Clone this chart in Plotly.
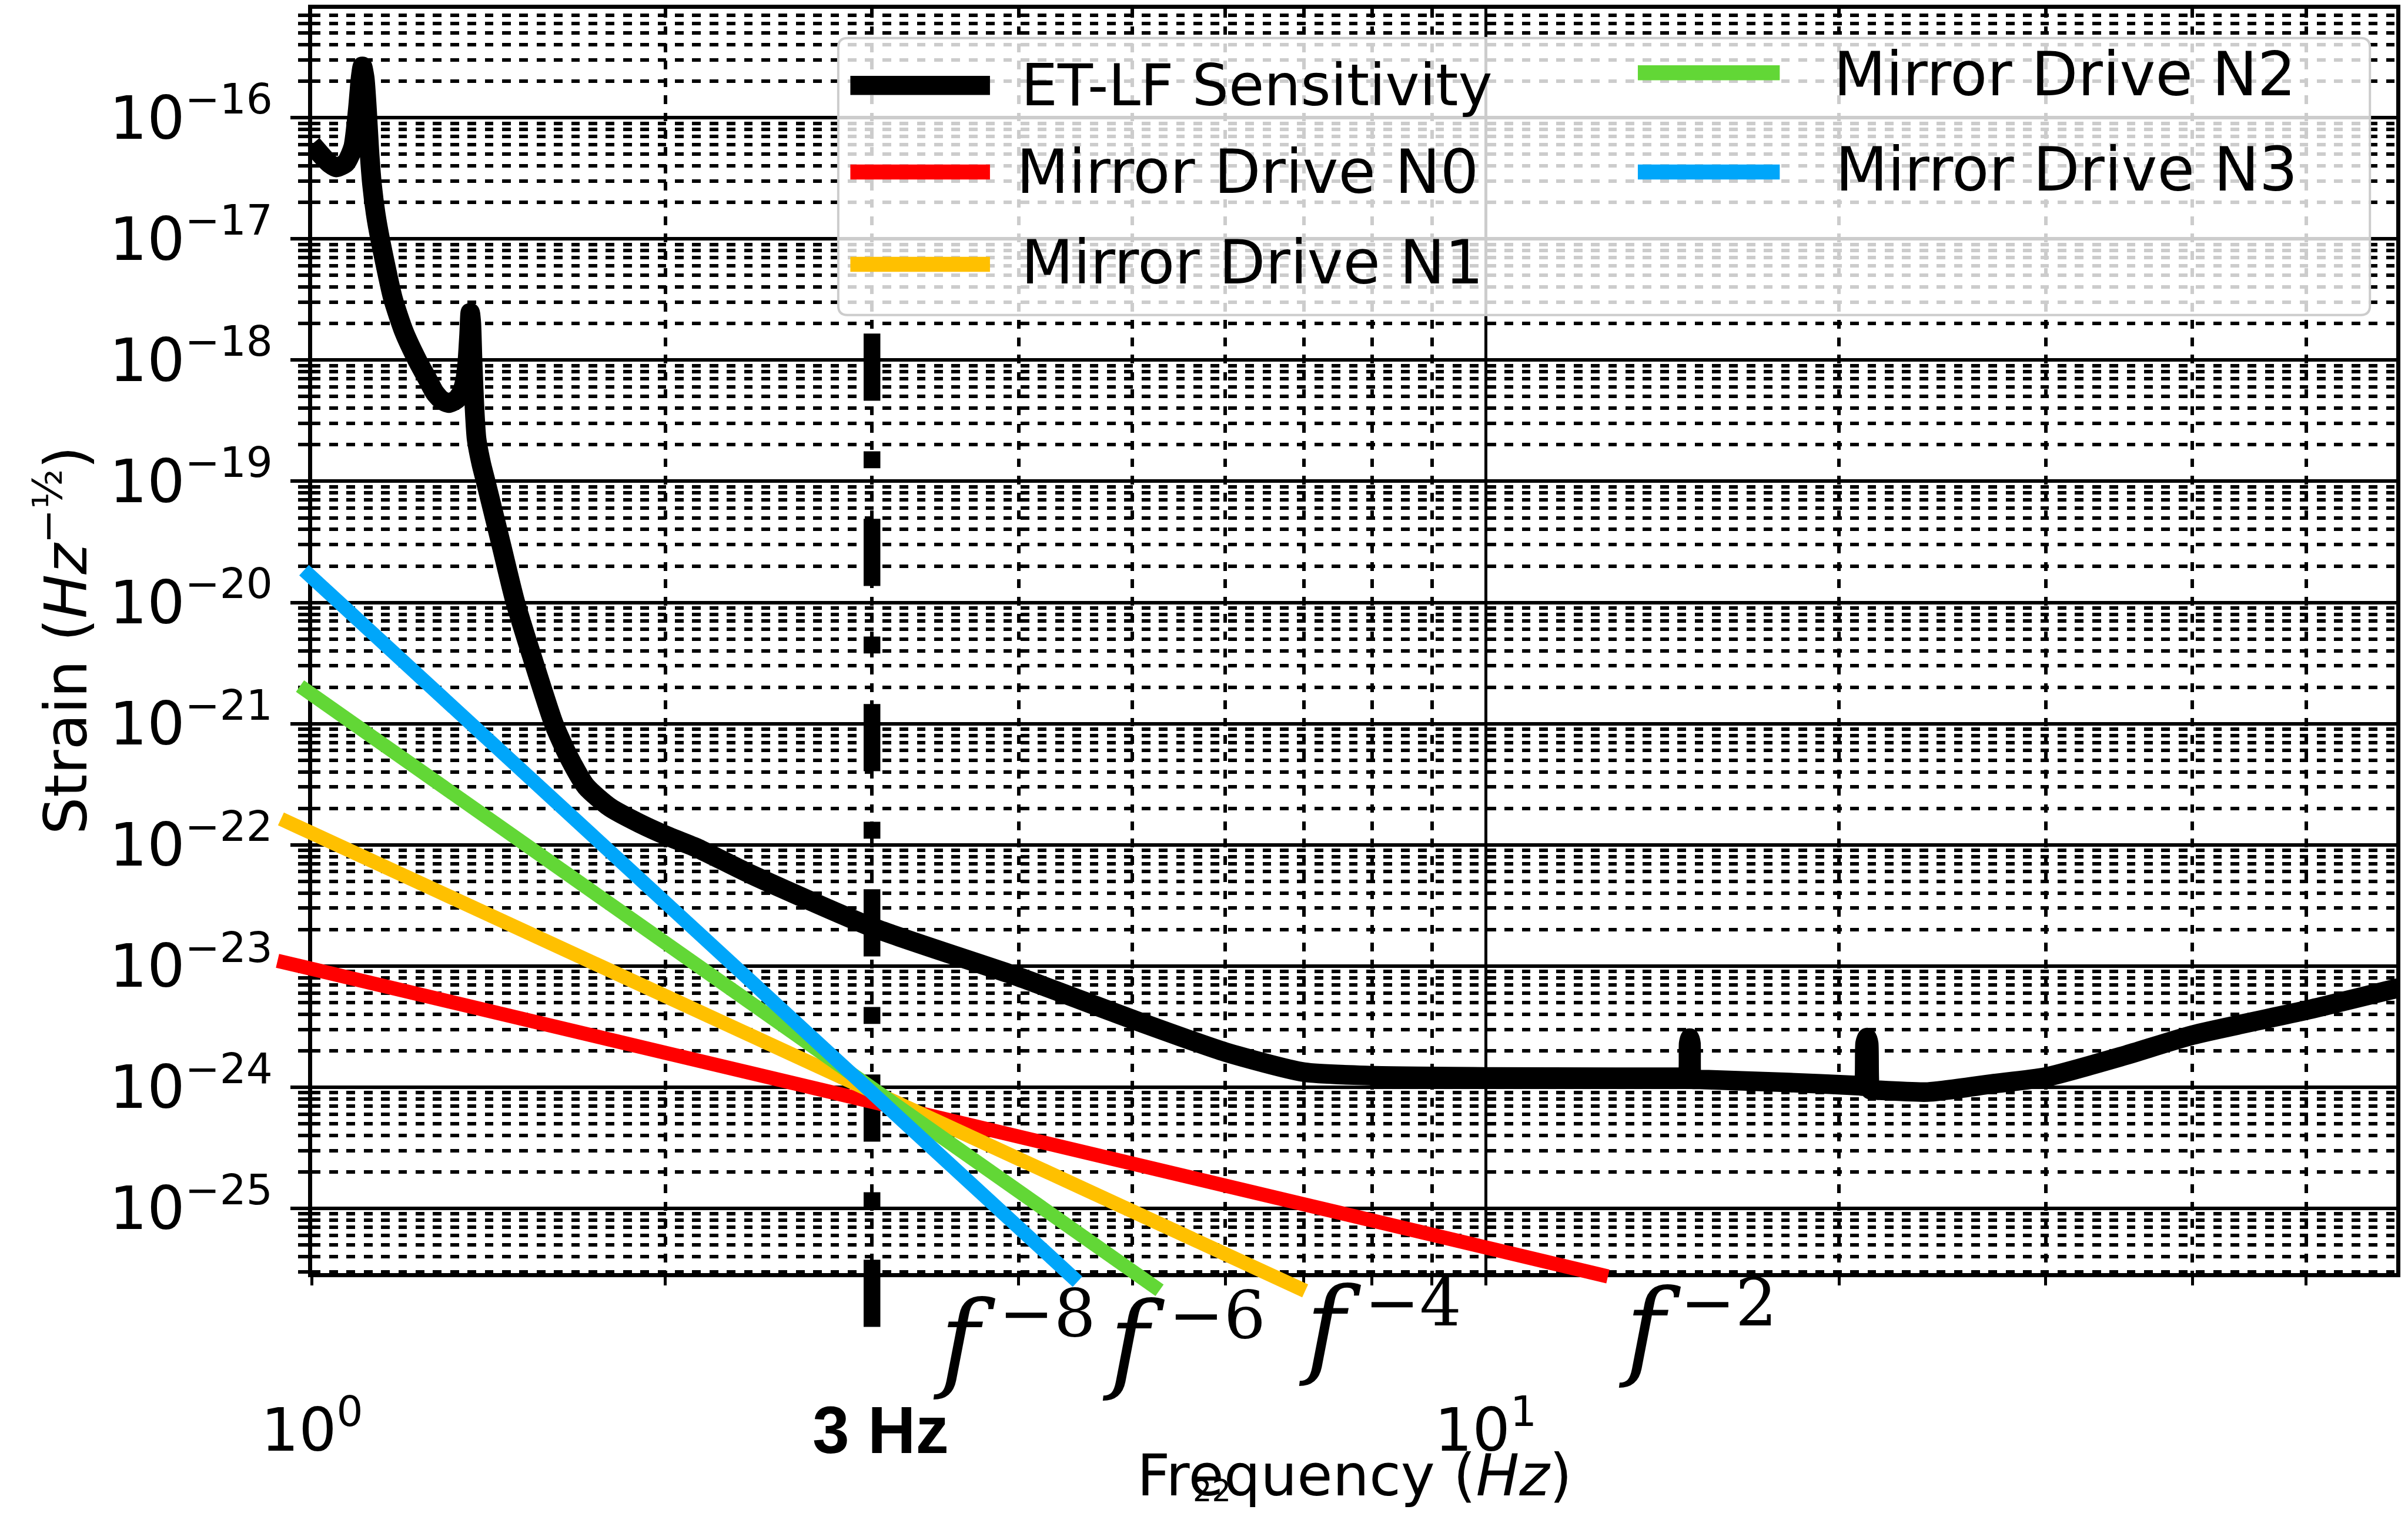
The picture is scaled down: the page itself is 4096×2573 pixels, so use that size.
import plotly.graph_objects as go

# ---------------- data ----------------
et_lf_freq = [1.000, 1.022, 1.036, 1.049, 1.069, 1.084, 1.094, 1.100, 1.104, 1.109, 1.114, 1.119, 1.125, 1.133, 1.143,
              1.172, 1.198, 1.230, 1.253, 1.272, 1.289, 1.308, 1.328, 1.341, 1.350, 1.356, 1.361, 1.364, 1.367, 1.370,
              1.375, 1.381, 1.394, 1.406, 1.448, 1.490, 1.546, 1.607, 1.655, 1.712, 1.794, 1.900, 2.013, 2.133, 2.362,
              3.0, 4.0, 5.0, 6.0, 7.0, 8.0, 10.0, 12.9, 14.75, 14.857, 14.891, 14.925, 14.959, 14.993, 15.10, 18.0,
              20.80, 20.98, 21.05, 21.13, 21.20, 21.27, 21.40, 21.6, 23.8, 27.0, 30.0, 35.0, 40.0, 50.0, 60.0]
et_lf_strain = [6.04e-17, 4.74e-17, 4.16e-17, 3.89e-17, 4.25e-17, 5.71e-17, 1.17e-16, 2.13e-16, 2.65e-16, 2.13e-16,
                1.17e-16, 5.41e-17, 2.81e-17, 1.62e-17, 1.0e-17,
                3.24e-18, 1.71e-18, 9.89e-19, 7.11e-19, 5.41e-19, 4.69e-19, 4.42e-19, 4.74e-19, 5.41e-19, 6.74e-19,
                9.36e-19, 1.62e-18, 2.45e-18, 2.02e-18, 1.05e-18,
                4.35e-19, 2.25e-19, 1.39e-19, 1.0e-19, 3.13e-20, 1.01e-20, 3.16e-21, 1.0e-21, 5.30e-22, 3.03e-22,
                2.04e-22, 1.51e-22, 1.17e-22, 9.33e-23, 5.75e-23,
                2.09e-23, 8.13e-24, 3.63e-24, 1.95e-24, 1.33e-24, 1.245e-24, 1.216e-24, 1.208e-24, 1.208e-24, 1.208e-24,
                2.29e-24, 2.54e-24, 2.29e-24, 1.167e-24, 1.162e-24, 1.096e-24,
                1.03e-24, 1.023e-24, 2.29e-24, 2.57e-24, 2.29e-24, 9.55e-25, 9.50e-25, 9.44e-25, 9.12e-25, 1.064e-24,
                1.211e-24, 1.82e-24, 2.69e-24, 4.31e-24, 6.61e-24]

n0_freq = [0.9346, 12.71]
n0_strain = [1.104e-23, 2.742e-26]
n1_freq = [0.9409, 7.018]
n1_strain = [1.637e-22, 2.084e-26]
n2_freq = [0.9768, 5.274]
n2_strain = [2.042e-21, 2.109e-26]
n3_freq = [0.9845, 4.490]
n3_strain = [1.849e-20, 2.483e-26]

cut_freq = [3.0, 3.0]
cut_strain = [1.656e-18, 9.57e-27]

x_tick_vals = [1, 10]
x_tick_text = ["10<sup>0</sup>", "10<sup>1</sup>"]
x_minor_vals = [2, 3, 4, 5, 6, 7, 8, 9, 20, 30, 40, 50]
y_tick_exp = [-25, -24, -23, -22, -21, -20, -19, -18, -17, -16]
y_tick_text = ["10<sup>\u221225</sup>", "10<sup>\u221224</sup>", "10<sup>\u221223</sup>", "10<sup>\u221222</sup>",
               "10<sup>\u221221</sup>", "10<sup>\u221220</sup>", "10<sup>\u221219</sup>", "10<sup>\u221218</sup>",
               "10<sup>\u221217</sup>", "10<sup>\u221216</sup>"]
y_minor_mant = [2, 3, 4, 5, 6, 7, 8, 9]
y_minor_exp = list(range(-26, -15))

legend_names = ["ET-LF Sensitivity", "Mirror Drive N0", "Mirror Drive N1", "Mirror Drive N2", "Mirror Drive N3"]
slope_labels = ["\u22128", "\u22126", "\u22124", "\u22122"]

# ---------------- geometry helpers (reference px -> output) ----------------
W, H = 4096, 2573
RW, RH = 4174.0, 2622.0
S = W / RW


def px(v):
    return v * S


def xp(x):
    return x / RW


def yp(y):
    return 1 - y / RH


L, R, T, B = 540.8, 4154.0, 15.5, 2206.0
x_range = [0.0, 1.776]
y_range = [-25.533, -15.102]
dec_x = (R - L) / (x_range[1] - x_range[0])
dec_y = (B - T) / (y_range[1] - y_range[0])
L2, B2 = 420.0, 2345.0
x2_range = [x_range[0] - (L - L2) / dec_x, x_range[1]]
y2_range = [y_range[0] - (B2 - B) / dec_y, y_range[1]]

BLACK = "#000000"
C_N0, C_N1, C_N2, C_N3 = "#FF0000", "#FFC000", "#62D736", "#00A6FA"

fig = go.Figure()

fig.add_trace(go.Scatter(x=et_lf_freq, y=et_lf_strain, mode="lines", name=legend_names[0],
                         line=dict(color=BLACK, width=px(34), shape="spline", smoothing=0.6),
                         xaxis="x", yaxis="y", showlegend=False))
fig.add_trace(go.Scatter(x=cut_freq, y=cut_strain, mode="lines", name="3 Hz",
                         line=dict(color=BLACK, width=px(29),
                                   dash="%.1fpx,%.1fpx,%.1fpx,%.1fpx" % (px(116.5), px(87.5), px(29.5), px(87.5))),
                         xaxis="x2", yaxis="y2", showlegend=False))
for fx, fy, col, nm in [(n0_freq, n0_strain, C_N0, legend_names[1]), (n1_freq, n1_strain, C_N1, legend_names[2]),
                        (n2_freq, n2_strain, C_N2, legend_names[3]), (n3_freq, n3_strain, C_N3, legend_names[4])]:
    fig.add_trace(go.Scatter(x=fx, y=fy, mode="lines", name=nm, line=dict(color=col, width=px(24.5)),
                             xaxis="x2", yaxis="y2", showlegend=False))

y_minor_vals = [m * 10.0 ** e for e in y_minor_exp for m in y_minor_mant]
dash_minor = "%.1fpx,%.1fpx" % (px(15), px(15))

fig.update_layout(
    template="none",
    width=W, height=H, autosize=False,
    margin=dict(l=0, r=0, t=0, b=0, pad=0),
    paper_bgcolor="white", plot_bgcolor="rgba(0,0,0,0)",
    font=dict(family="DejaVu Sans", color="black", size=px(100)),
    showlegend=False,
    xaxis=dict(type="log", range=x_range, domain=[xp(L), xp(R)], anchor="y", automargin=False,
               showline=True, linecolor=BLACK, linewidth=px(7.5), mirror=True,
               ticks="outside", ticklen=px(14), tickwidth=px(5), tickcolor=BLACK,
               tickmode="array", tickvals=x_tick_vals, ticktext=x_tick_text,
               tickfont=dict(family="DejaVu Sans", size=px(103), color=BLACK),
               ticklabelstandoff=160,
               showgrid=True, gridcolor=BLACK, gridwidth=px(5),
               zeroline=False,
               minor=dict(tickmode="array", tickvals=x_minor_vals, ticks="outside", ticklen=px(14),
                          tickwidth=px(5), tickcolor=BLACK, showgrid=True, gridcolor=BLACK,
                          gridwidth=px(6), griddash=dash_minor)),
    yaxis=dict(type="log", range=y_range, domain=[yp(B), yp(T)], anchor="x", automargin=False,
               showline=True, linecolor=BLACK, linewidth=px(7.5), mirror=True,
               ticks="outside", ticklen=px(30), tickwidth=px(6.5), tickcolor=BLACK,
               tickmode="array", tickvals=[10.0 ** e for e in y_tick_exp], ticktext=y_tick_text,
               tickfont=dict(family="DejaVu Sans", size=px(103), color=BLACK),
               ticklabelstandoff=10,
               showgrid=True, gridcolor=BLACK, gridwidth=px(6.5),
               zeroline=False,
               minor=dict(tickmode="array", tickvals=y_minor_vals, ticks="outside", ticklen=px(17),
                          tickwidth=px(6.5), tickcolor=BLACK, showgrid=True, gridcolor=BLACK,
                          gridwidth=px(6), griddash=dash_minor)),
    xaxis2=dict(type="log", range=x2_range, domain=[xp(L2), xp(R)], anchor="y2", visible=False,
                showgrid=False, zeroline=False, automargin=False),
    yaxis2=dict(type="log", range=y2_range, domain=[yp(B2), yp(T)], anchor="x2", visible=False,
                showgrid=False, zeroline=False, automargin=False),
)

# ---------------- legend (drawn as a framed box) ----------------
bx0, by0, bx1, by1, rad = 1453, 66, 4108, 546, 16
rx, ry = rad / RW, rad / RH
X0, X1, Yt, Yb = xp(bx0), xp(bx1), yp(by0), yp(by1)
path = (f"M{X0+rx},{Yt} L{X1-rx},{Yt} Q{X1},{Yt} {X1},{Yt-ry} L{X1},{Yb+ry} Q{X1},{Yb} {X1-rx},{Yb} "
        f"L{X0+rx},{Yb} Q{X0},{Yb} {X0},{Yb+ry} L{X0},{Yt-ry} Q{X0},{Yt} {X0+rx},{Yt} Z")
shapes = [dict(type="path", path=path, xref="paper", yref="paper", layer="above",
               fillcolor="rgba(255,255,255,0.8)", line=dict(color="#cccccc", width=px(4)))]

legend_rows = [  # swatch x0, x1, y, colour, width, text x, text y, font size
    (1474, 1716, 148, BLACK, 33, 1768, 148, 100),
    (1474, 1716, 298, C_N0, 26, 1760, 298, 105),
    (1474, 1716, 458, C_N1, 26, 1768, 455, 105),
    (2839, 3085, 126, C_N2, 26, 3176, 128, 105),
    (2839, 3085, 298, C_N3, 26, 3179, 293, 105),
]
annotations = []
for i, (sx0, sx1, sy, col, lw, tx, ty, fs) in enumerate(legend_rows):
    shapes.append(dict(type="line", xref="paper", yref="paper", layer="above",
                       x0=xp(sx0), x1=xp(sx1), y0=yp(sy), y1=yp(sy), line=dict(color=col, width=px(lw))))
    annotations.append(dict(text=legend_names[i], x=xp(tx), y=yp(ty), xref="paper", yref="paper",
                            xanchor="left", yanchor="middle", showarrow=False,
                            font=dict(family="DejaVu Sans", size=px(fs), color=BLACK)))

# slope labels: italic f with its exponent, placed beside each line's end
f_pos = [(1672, 2322), (1965, 2324), (2306, 2299), (2860, 2302)]
exp_pos = [(1815, 2276), (2110, 2279), (2449, 2257), (2997, 2257)]
for lab, (fx_, fy_), (ex_, ey_) in zip(slope_labels, f_pos, exp_pos):
    annotations.append(dict(text="<i>f</i>", x=xp(fx_), y=yp(fy_), xref="paper", yref="paper",
                            xanchor="center", yanchor="middle", showarrow=False,
                            font=dict(family="DejaVu Serif", size=px(185), color=BLACK)))
    annotations.append(dict(text=lab, x=xp(ex_), y=yp(ey_), xref="paper", yref="paper",
                            xanchor="center", yanchor="middle", showarrow=False,
                            font=dict(family="DejaVu Serif", size=px(114), color=BLACK)))

annotations += [
    dict(text="<b>3 Hz</b>", x=xp(1527), y=yp(2478), xref="paper", yref="paper", xanchor="center",
         yanchor="middle", showarrow=False, font=dict(family="Liberation Sans", size=px(115), color=BLACK)),
    dict(text="Frequency (<i>Hz</i>)", x=xp(2348), y=yp(2557), xref="paper", yref="paper", xanchor="center",
         yanchor="middle", showarrow=False, font=dict(family="DejaVu Sans", size=px(100), color=BLACK)),
    dict(text="Strain (<i>Hz</i><sup>\u2212\u00bd</sup>)", x=xp(107), y=yp(1110), xref="paper", yref="paper",
         xanchor="center", yanchor="middle", textangle=-90, showarrow=False,
         font=dict(family="DejaVu Sans", size=px(102), color=BLACK)),
    dict(text="22", x=xp(2101), y=yp(2584), xref="paper", yref="paper", xanchor="center", yanchor="middle",
         showarrow=False, font=dict(family="DejaVu Sans", size=px(52), color=BLACK)),
]

fig.update_layout(shapes=shapes, annotations=annotations)
fig.write_html("out.html")
